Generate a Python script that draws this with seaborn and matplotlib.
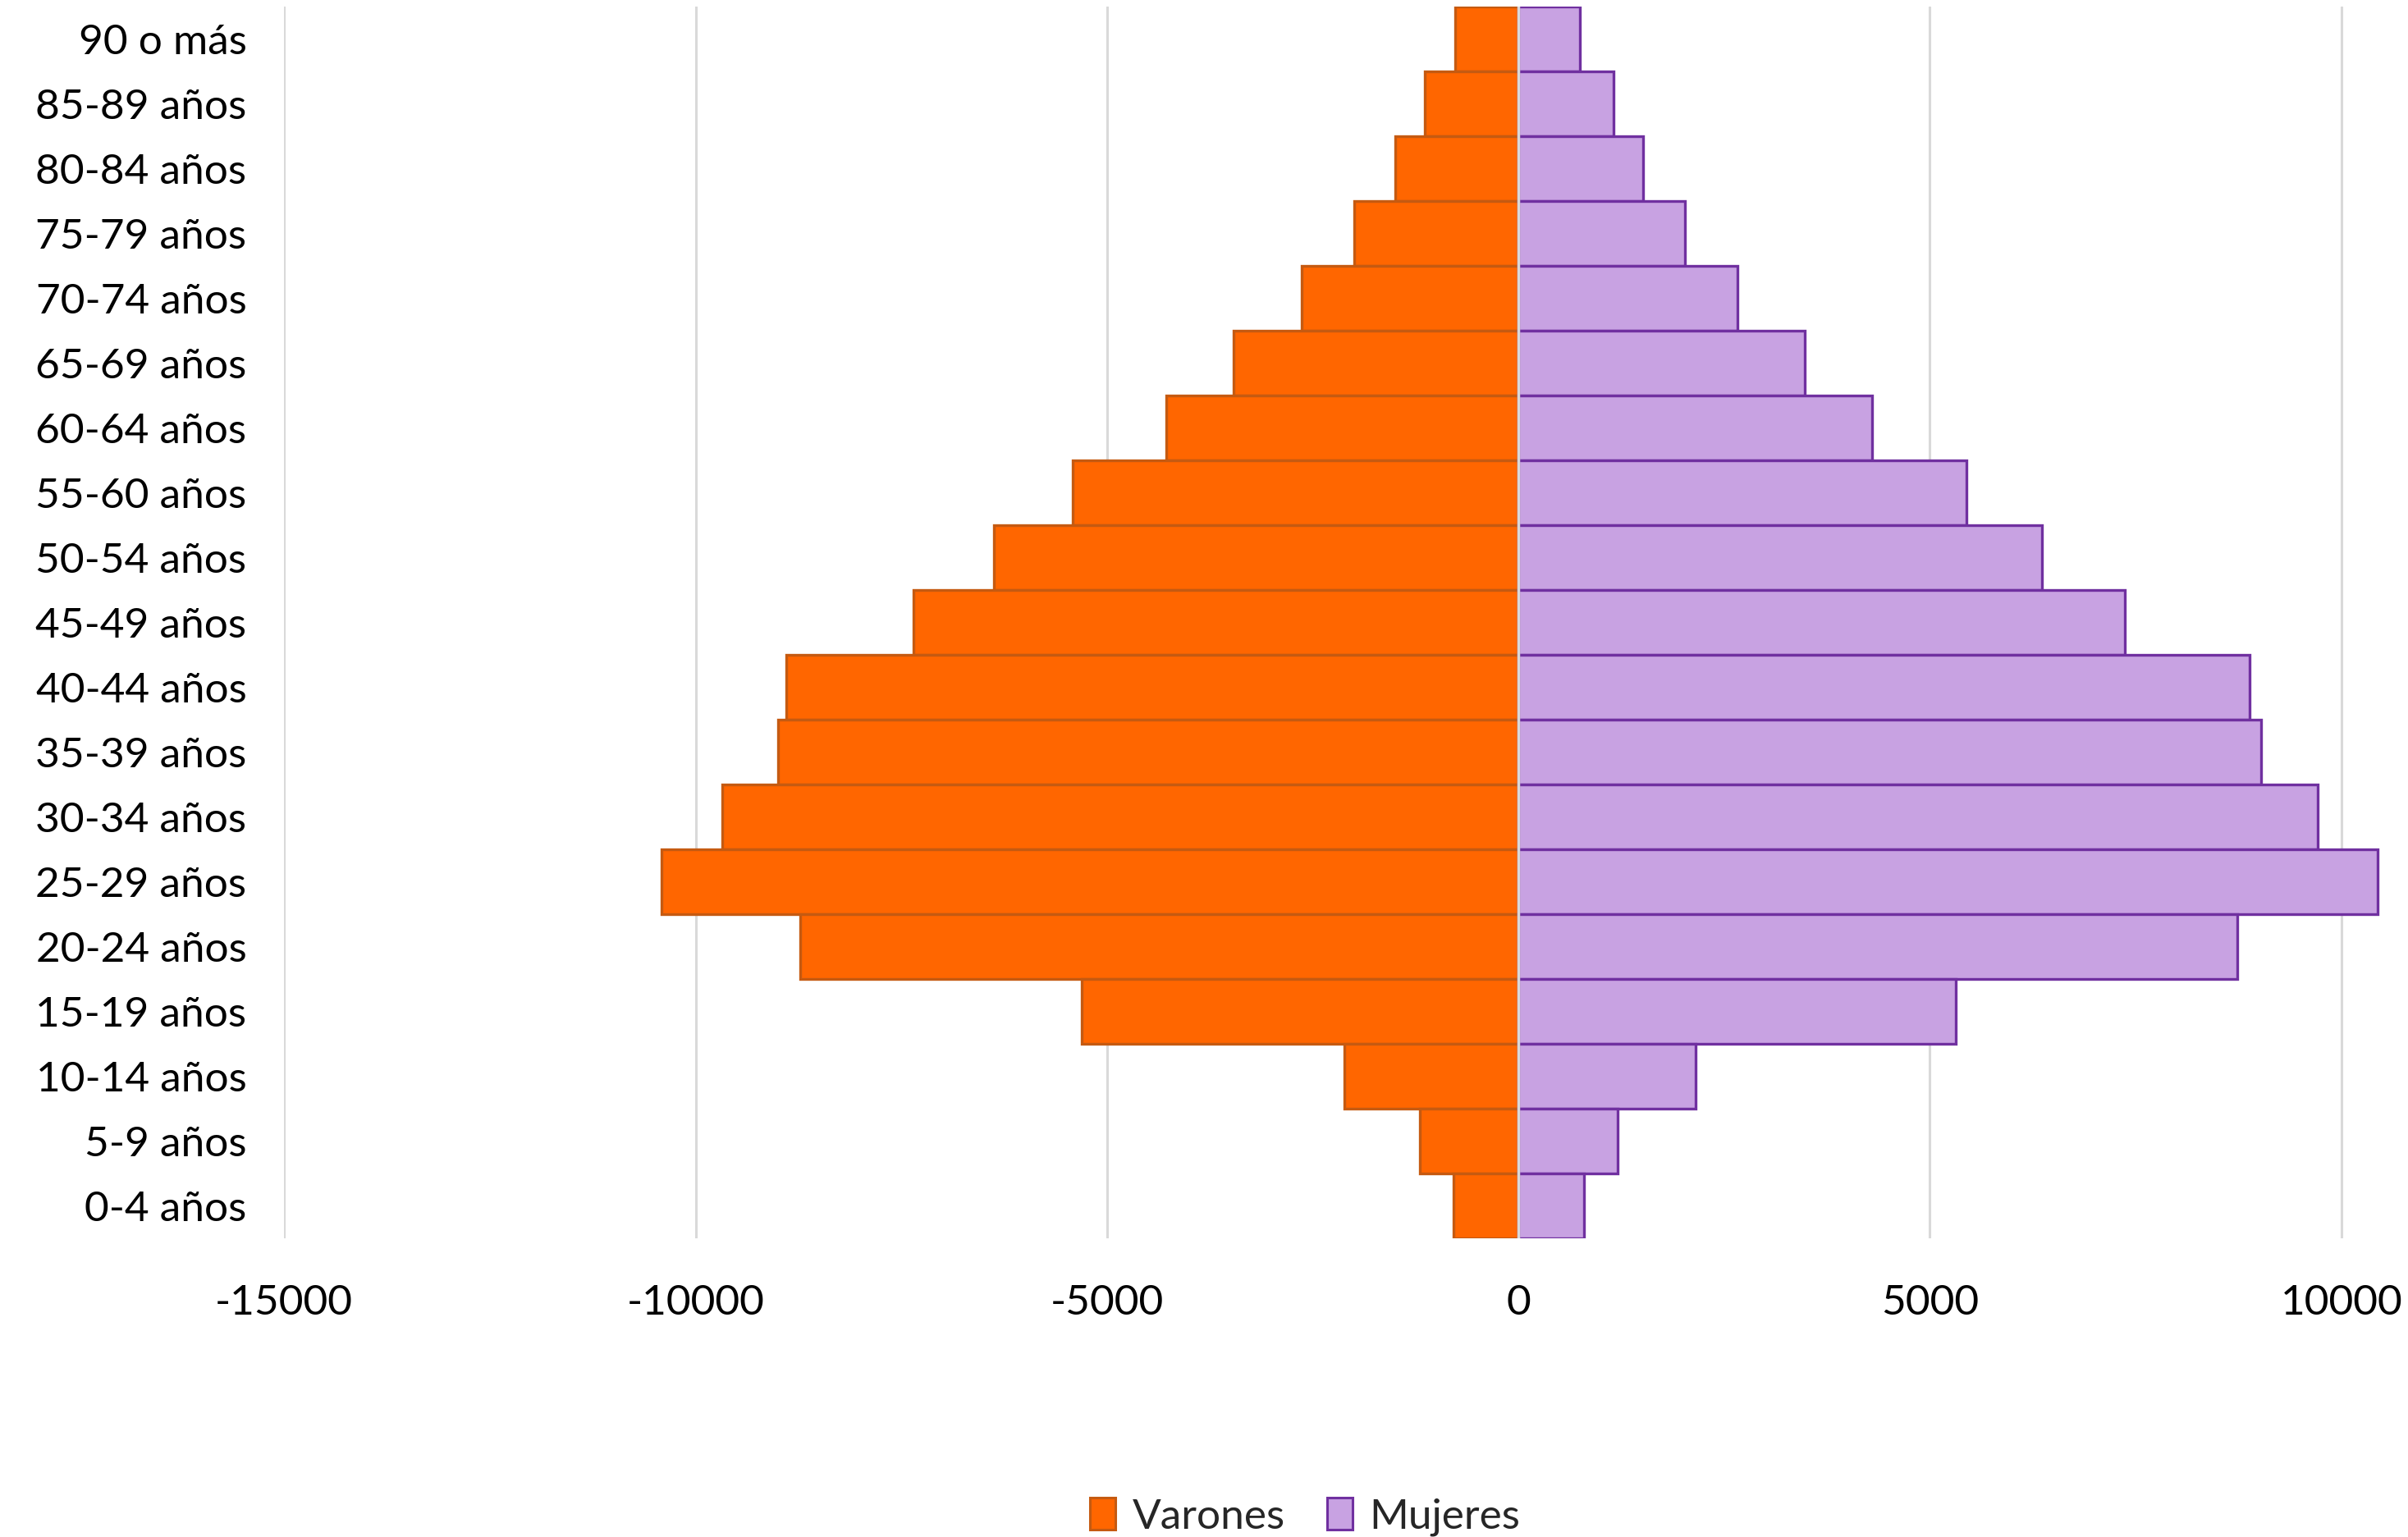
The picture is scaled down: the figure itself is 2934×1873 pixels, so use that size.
import pandas as pd
import numpy as np
import matplotlib
matplotlib.use('Agg')
import matplotlib.pyplot as plt
from matplotlib.patches import Patch
import seaborn as sns


# Datos de la pirámide (de mayor a menor edad, como en el gráfico)
edades = ['90 o más', '85-89 años', '80-84 años', '75-79 años', '70-74 años',
          '65-69 años', '60-64 años', '55-60 años', '50-54 años', '45-49 años',
          '40-44 años', '35-39 años', '30-34 años', '25-29 años', '20-24 años',
          '15-19 años', '10-14 años', '5-9 años', '0-4 años']
varones = [770, 1140, 1500, 2000, 2630, 3460, 4280, 5420, 6370, 7350,
           8900, 9000, 9680, 10410, 8730, 5310, 2120, 1200, 790]
mujeres = [750, 1160, 1515, 2020, 2660, 3480, 4300, 5440, 6360, 7370,
           8885, 9020, 9710, 10440, 8735, 5310, 2150, 1205, 795]
xticks = [-15000, -10000, -5000, 0, 5000, 10000]

color_var = '#FF6600'
borde_var = '#C55A11'
color_muj = '#C8A2E2'
borde_muj = '#7030A0'
gris = '#D9D9D9'

df = pd.DataFrame({
    'edad': edades * 2,
    'valor': [-v for v in varones] + mujeres,
    'sexo': ['Varones'] * len(edades) + ['Mujeres'] * len(edades),
})

sns.set_style('white')
plt.rcParams['font.family'] = ['Lato', 'DejaVu Sans']
plt.rcParams['axes.unicode_minus'] = False

fig = plt.figure(figsize=(29.34, 18.73), dpi=100)
ax = fig.add_axes([0.118, 0.1943, 0.882, 0.8014])

sns.barplot(data=df, x='valor', y='edad', hue='sexo', order=edades,
            hue_order=['Varones', 'Mujeres'], dodge=False, width=1.0,
            palette={'Varones': color_var, 'Mujeres': color_muj},
            saturation=1, legend=False, ax=ax, zorder=2)

# Bordes de las barras
for cont, borde in zip(ax.containers, [borde_var, borde_muj]):
    for p in cont.patches:
        p.set_edgecolor(borde)
        p.set_linewidth(2.4)

# Rejilla vertical
for xt in xticks:
    ax.axvline(xt, color=gris, lw=2.2, zorder=0)
ax.axvline(0, color=gris, lw=2.5, zorder=3)

ax.set_xlim(-15000, 10810)
ax.set_ylim(len(edades) - 0.5, -0.5)
ax.set_xticks(xticks)
ax.set_xticklabels([str(t) for t in xticks])
ax.tick_params(axis='x', length=0, pad=40, labelsize=37, labelcolor='black')
ax.tick_params(axis='y', length=0, pad=33, labelsize=37, labelcolor='black')
ax.set_xlabel('')
ax.set_ylabel('')
for s in ax.spines.values():
    s.set_visible(False)

handles = [Patch(facecolor=color_var, edgecolor=borde_var, lw=2.2, label='Varones'),
           Patch(facecolor=color_muj, edgecolor=borde_muj, lw=2.2, label='Mujeres')]
fig.legend(handles=handles, loc='center', bbox_to_anchor=(0.542, 0.013),
           ncol=2, frameon=False, fontsize=37, handlelength=0.6, handleheight=0.8,
           handletextpad=0.4, columnspacing=1.0, borderpad=0)

fig.savefig('out.png', dpi=100)
